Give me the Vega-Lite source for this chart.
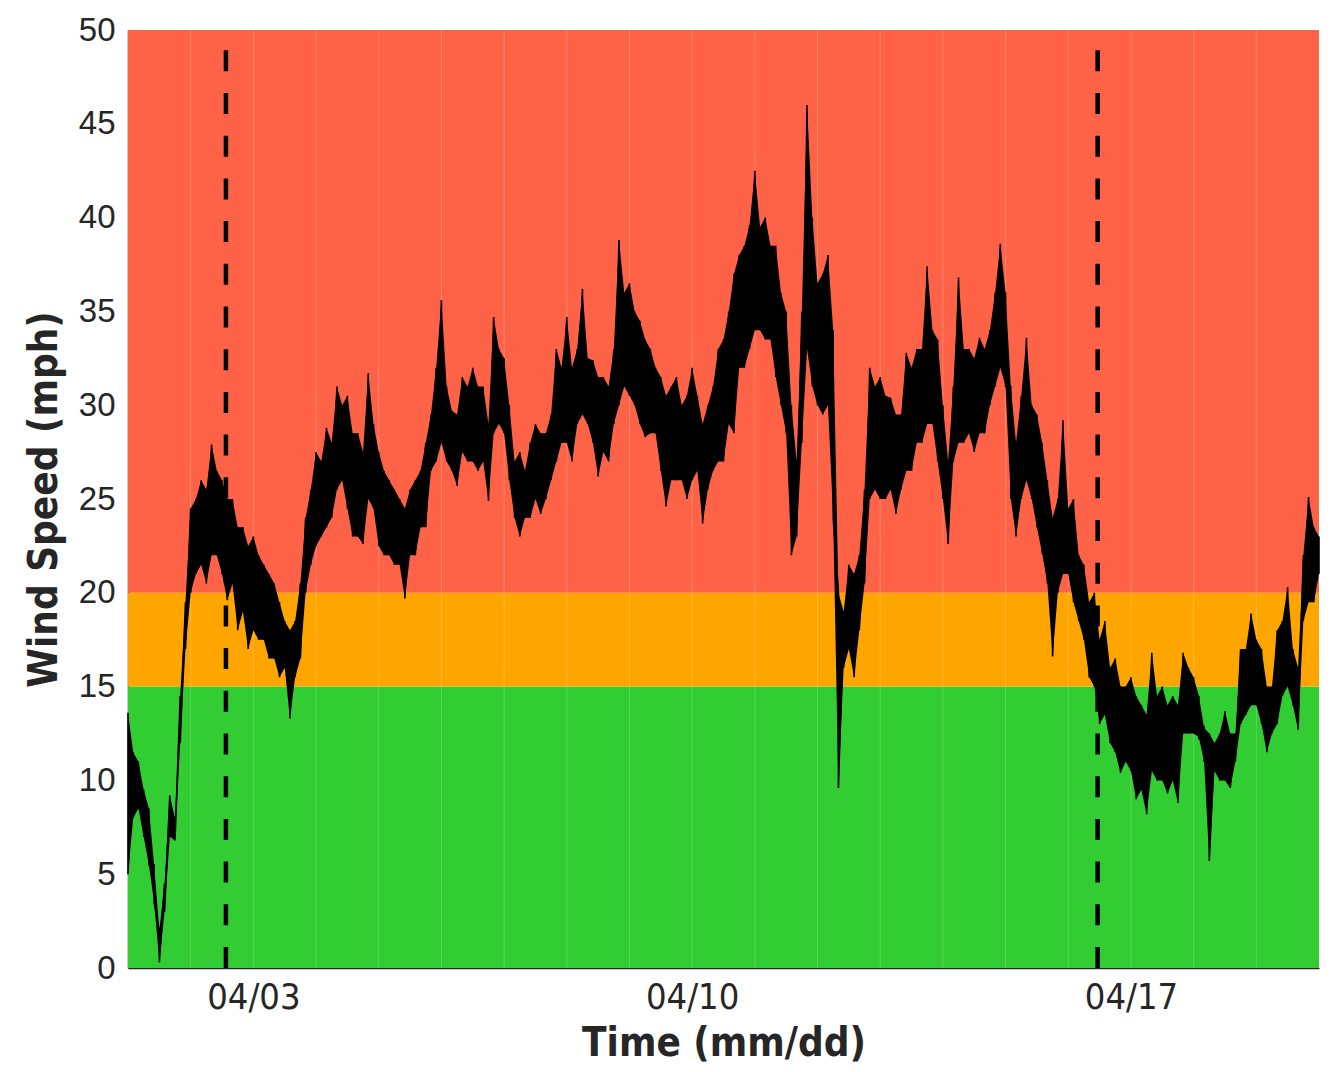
{
"$schema": "https://vega.github.io/schema/vega-lite/v6.json",
"width": 1191, "height": 938,
"autosize": {"type": "none"},
"padding": {"left": 128, "top": 30, "right": 15, "bottom": 104},
"background": "white",
"config": {"view": {"stroke": null}},
"datasets": {
"bands": [{"zone": "green", "lo": 0, "hi": 15}, {"zone": "orange", "lo": 15, "hi": 20}, {"zone": "red", "lo": 20, "hi": 50}],
"days": [{"t":"2023-04-02T00:00"},{"t":"2023-04-03T00:00"},{"t":"2023-04-04T00:00"},{"t":"2023-04-05T00:00"},{"t":"2023-04-06T00:00"},{"t":"2023-04-07T00:00"},{"t":"2023-04-08T00:00"},{"t":"2023-04-09T00:00"},{"t":"2023-04-10T00:00"},{"t":"2023-04-11T00:00"},{"t":"2023-04-12T00:00"},{"t":"2023-04-13T00:00"},{"t":"2023-04-14T00:00"},{"t":"2023-04-15T00:00"},{"t":"2023-04-16T00:00"},{"t":"2023-04-17T00:00"},{"t":"2023-04-18T00:00"},{"t":"2023-04-19T00:00"}],
"markers": [{"t":"2023-04-02T13:30"},{"t":"2023-04-16T11:15"}],
"wind": [
{"t":"2023-04-01T00:00","hi":13.6,"lo":5.0},{"t":"2023-04-01T02:00","hi":11.5,"lo":8.0},{"t":"2023-04-01T04:00","hi":11.0,"lo":8.5},{"t":"2023-04-01T06:00","hi":9.5,"lo":7.0},{"t":"2023-04-01T08:00","hi":8.5,"lo":5.5},{"t":"2023-04-01T10:00","hi":5.5,"lo":3.5},{"t":"2023-04-01T12:00","hi":2.0,"lo":0.3},{"t":"2023-04-01T14:00","hi":4.5,"lo":3.0},{"t":"2023-04-01T16:00","hi":9.2,"lo":7.0},{"t":"2023-04-01T18:00","hi":8.0,"lo":6.8},{"t":"2023-04-01T20:00","hi":14.5,"lo":12.0},{"t":"2023-04-01T22:00","hi":19.5,"lo":17.0},
{"t":"2023-04-02T00:00","hi":24.5,"lo":20.0},{"t":"2023-04-02T02:00","hi":25.0,"lo":21.0},{"t":"2023-04-02T04:00","hi":26.0,"lo":21.5},{"t":"2023-04-02T06:00","hi":25.5,"lo":20.5},{"t":"2023-04-02T08:00","hi":27.9,"lo":22.0},{"t":"2023-04-02T10:00","hi":26.5,"lo":22.0},{"t":"2023-04-02T12:00","hi":26.0,"lo":21.0},{"t":"2023-04-02T14:00","hi":25.0,"lo":19.6},{"t":"2023-04-02T16:00","hi":25.0,"lo":20.5},{"t":"2023-04-02T18:00","hi":23.5,"lo":18.0},{"t":"2023-04-02T20:00","hi":23.5,"lo":19.0},{"t":"2023-04-02T22:00","hi":22.5,"lo":17.0},
{"t":"2023-04-03T00:00","hi":23.0,"lo":18.0},{"t":"2023-04-03T02:00","hi":22.0,"lo":17.5},{"t":"2023-04-03T04:00","hi":21.5,"lo":17.5},{"t":"2023-04-03T06:00","hi":21.0,"lo":16.5},{"t":"2023-04-03T08:00","hi":20.5,"lo":16.5},{"t":"2023-04-03T10:00","hi":19.5,"lo":15.5},{"t":"2023-04-03T12:00","hi":18.5,"lo":16.0},{"t":"2023-04-03T14:00","hi":18.0,"lo":13.3},{"t":"2023-04-03T16:00","hi":18.5,"lo":15.5},{"t":"2023-04-03T18:00","hi":20.5,"lo":16.5},{"t":"2023-04-03T20:00","hi":24.0,"lo":20.0},{"t":"2023-04-03T22:00","hi":25.5,"lo":21.5},
{"t":"2023-04-04T00:00","hi":27.5,"lo":22.5},{"t":"2023-04-04T02:00","hi":27.0,"lo":23.0},{"t":"2023-04-04T04:00","hi":28.8,"lo":23.5},{"t":"2023-04-04T06:00","hi":28.0,"lo":24.0},{"t":"2023-04-04T08:00","hi":31.0,"lo":25.5},{"t":"2023-04-04T10:00","hi":30.0,"lo":26.0},{"t":"2023-04-04T12:00","hi":30.5,"lo":24.5},{"t":"2023-04-04T14:00","hi":28.5,"lo":23.0},{"t":"2023-04-04T16:00","hi":28.5,"lo":23.0},{"t":"2023-04-04T18:00","hi":27.5,"lo":22.6},{"t":"2023-04-04T20:00","hi":31.7,"lo":25.0},{"t":"2023-04-04T22:00","hi":29.0,"lo":24.5},
{"t":"2023-04-05T00:00","hi":27.5,"lo":22.5},{"t":"2023-04-05T02:00","hi":26.5,"lo":22.0},{"t":"2023-04-05T04:00","hi":26.0,"lo":22.0},{"t":"2023-04-05T06:00","hi":25.5,"lo":21.5},{"t":"2023-04-05T08:00","hi":25.0,"lo":21.5},{"t":"2023-04-05T10:00","hi":24.5,"lo":19.7},{"t":"2023-04-05T12:00","hi":25.5,"lo":22.0},{"t":"2023-04-05T14:00","hi":26.0,"lo":22.0},{"t":"2023-04-05T16:00","hi":26.5,"lo":23.5},{"t":"2023-04-05T18:00","hi":28.0,"lo":23.5},{"t":"2023-04-05T20:00","hi":29.5,"lo":26.5},{"t":"2023-04-05T22:00","hi":32.0,"lo":27.0},
{"t":"2023-04-06T00:00","hi":35.6,"lo":28.0},{"t":"2023-04-06T02:00","hi":31.0,"lo":27.0},{"t":"2023-04-06T04:00","hi":29.7,"lo":26.5},{"t":"2023-04-06T06:00","hi":29.5,"lo":25.7},{"t":"2023-04-06T08:00","hi":31.5,"lo":27.5},{"t":"2023-04-06T10:00","hi":31.0,"lo":27.0},{"t":"2023-04-06T12:00","hi":32.0,"lo":27.0},{"t":"2023-04-06T14:00","hi":31.0,"lo":26.5},{"t":"2023-04-06T16:00","hi":31.0,"lo":27.0},{"t":"2023-04-06T18:00","hi":29.0,"lo":24.9},{"t":"2023-04-06T20:00","hi":34.7,"lo":28.5},{"t":"2023-04-06T22:00","hi":33.0,"lo":29.0},
{"t":"2023-04-07T00:00","hi":32.5,"lo":28.5},{"t":"2023-04-07T02:00","hi":30.0,"lo":26.0},{"t":"2023-04-07T04:00","hi":27.0,"lo":24.0},{"t":"2023-04-07T06:00","hi":27.5,"lo":23.0},{"t":"2023-04-07T08:00","hi":26.5,"lo":24.0},{"t":"2023-04-07T10:00","hi":28.0,"lo":24.0},{"t":"2023-04-07T12:00","hi":29.0,"lo":25.0},{"t":"2023-04-07T14:00","hi":28.5,"lo":24.2},{"t":"2023-04-07T16:00","hi":28.5,"lo":25.0},{"t":"2023-04-07T18:00","hi":29.5,"lo":26.0},{"t":"2023-04-07T20:00","hi":33.0,"lo":27.0},{"t":"2023-04-07T22:00","hi":32.0,"lo":28.0},
{"t":"2023-04-08T00:00","hi":34.7,"lo":28.0},{"t":"2023-04-08T02:00","hi":32.0,"lo":27.0},{"t":"2023-04-08T04:00","hi":33.0,"lo":29.0},{"t":"2023-04-08T06:00","hi":36.2,"lo":29.5},{"t":"2023-04-08T08:00","hi":32.5,"lo":29.0},{"t":"2023-04-08T10:00","hi":32.4,"lo":28.0},{"t":"2023-04-08T12:00","hi":31.5,"lo":26.2},{"t":"2023-04-08T14:00","hi":31.5,"lo":27.5},{"t":"2023-04-08T16:00","hi":31.0,"lo":27.0},{"t":"2023-04-08T18:00","hi":33.0,"lo":29.0},{"t":"2023-04-08T20:00","hi":38.8,"lo":30.0},{"t":"2023-04-08T22:00","hi":36.0,"lo":31.0},
{"t":"2023-04-09T00:00","hi":36.5,"lo":30.5},{"t":"2023-04-09T02:00","hi":35.0,"lo":30.0},{"t":"2023-04-09T04:00","hi":34.5,"lo":29.0},{"t":"2023-04-09T06:00","hi":33.5,"lo":28.3},{"t":"2023-04-09T08:00","hi":33.0,"lo":28.5},{"t":"2023-04-09T10:00","hi":32.0,"lo":28.5},{"t":"2023-04-09T12:00","hi":31.5,"lo":26.5},{"t":"2023-04-09T14:00","hi":30.5,"lo":24.6},{"t":"2023-04-09T16:00","hi":31.0,"lo":26.0},{"t":"2023-04-09T18:00","hi":31.5,"lo":26.0},{"t":"2023-04-09T20:00","hi":30.0,"lo":26.0},{"t":"2023-04-09T22:00","hi":30.5,"lo":25.0},
{"t":"2023-04-10T00:00","hi":32.0,"lo":26.0},{"t":"2023-04-10T02:00","hi":30.5,"lo":26.5},{"t":"2023-04-10T04:00","hi":29.0,"lo":23.7},{"t":"2023-04-10T06:00","hi":30.0,"lo":25.5},{"t":"2023-04-10T08:00","hi":31.0,"lo":26.5},{"t":"2023-04-10T10:00","hi":33.0,"lo":27.0},{"t":"2023-04-10T12:00","hi":33.5,"lo":27.0},{"t":"2023-04-10T14:00","hi":35.0,"lo":29.0},{"t":"2023-04-10T16:00","hi":37.0,"lo":28.5},{"t":"2023-04-10T18:00","hi":38.0,"lo":32.0},{"t":"2023-04-10T20:00","hi":38.5,"lo":32.0},{"t":"2023-04-10T22:00","hi":39.6,"lo":33.0},
{"t":"2023-04-11T00:00","hi":42.5,"lo":34.0},{"t":"2023-04-11T02:00","hi":39.5,"lo":34.0},{"t":"2023-04-11T04:00","hi":40.0,"lo":33.5},{"t":"2023-04-11T06:00","hi":38.5,"lo":33.5},{"t":"2023-04-11T08:00","hi":38.5,"lo":31.5},{"t":"2023-04-11T10:00","hi":36.0,"lo":30.0},{"t":"2023-04-11T12:00","hi":35.0,"lo":28.5},{"t":"2023-04-11T14:00","hi":30.0,"lo":22.0},{"t":"2023-04-11T16:00","hi":27.0,"lo":23.0},{"t":"2023-04-11T18:00","hi":35.0,"lo":28.0},{"t":"2023-04-11T20:00","hi":46.0,"lo":33.0},{"t":"2023-04-11T22:00","hi":40.0,"lo":31.0},
{"t":"2023-04-12T00:00","hi":36.5,"lo":30.0},{"t":"2023-04-12T02:00","hi":37.0,"lo":29.5},{"t":"2023-04-12T04:00","hi":38.0,"lo":30.0},{"t":"2023-04-12T06:00","hi":34.0,"lo":24.0},{"t":"2023-04-12T08:00","hi":20.0,"lo":9.6},{"t":"2023-04-12T10:00","hi":19.0,"lo":16.0},{"t":"2023-04-12T12:00","hi":21.5,"lo":17.0},{"t":"2023-04-12T14:00","hi":21.0,"lo":15.5},{"t":"2023-04-12T16:00","hi":22.0,"lo":18.0},{"t":"2023-04-12T18:00","hi":25.5,"lo":20.5},{"t":"2023-04-12T20:00","hi":32.0,"lo":25.0},{"t":"2023-04-12T22:00","hi":31.0,"lo":25.5},
{"t":"2023-04-13T00:00","hi":31.5,"lo":25.0},{"t":"2023-04-13T02:00","hi":30.5,"lo":25.0},{"t":"2023-04-13T04:00","hi":30.4,"lo":25.5},{"t":"2023-04-13T06:00","hi":29.5,"lo":24.2},{"t":"2023-04-13T08:00","hi":29.5,"lo":25.5},{"t":"2023-04-13T10:00","hi":32.8,"lo":26.5},{"t":"2023-04-13T12:00","hi":32.0,"lo":26.5},{"t":"2023-04-13T14:00","hi":33.0,"lo":28.0},{"t":"2023-04-13T16:00","hi":33.0,"lo":28.0},{"t":"2023-04-13T18:00","hi":37.4,"lo":29.0},{"t":"2023-04-13T20:00","hi":34.0,"lo":29.0},{"t":"2023-04-13T22:00","hi":33.5,"lo":27.0},
{"t":"2023-04-14T00:00","hi":30.0,"lo":25.0},{"t":"2023-04-14T02:00","hi":27.0,"lo":22.6},{"t":"2023-04-14T04:00","hi":31.0,"lo":27.0},{"t":"2023-04-14T06:00","hi":36.8,"lo":28.0},{"t":"2023-04-14T08:00","hi":33.0,"lo":28.0},{"t":"2023-04-14T10:00","hi":33.0,"lo":28.5},{"t":"2023-04-14T12:00","hi":32.5,"lo":27.5},{"t":"2023-04-14T14:00","hi":33.6,"lo":28.5},{"t":"2023-04-14T16:00","hi":33.0,"lo":28.5},{"t":"2023-04-14T18:00","hi":34.0,"lo":30.0},{"t":"2023-04-14T20:00","hi":36.0,"lo":31.0},{"t":"2023-04-14T22:00","hi":38.6,"lo":32.0},
{"t":"2023-04-15T00:00","hi":36.0,"lo":31.0},{"t":"2023-04-15T02:00","hi":31.0,"lo":25.0},{"t":"2023-04-15T04:00","hi":28.0,"lo":23.0},{"t":"2023-04-15T06:00","hi":30.5,"lo":25.0},{"t":"2023-04-15T08:00","hi":33.6,"lo":26.0},{"t":"2023-04-15T10:00","hi":30.0,"lo":25.0},{"t":"2023-04-15T12:00","hi":29.5,"lo":23.5},{"t":"2023-04-15T14:00","hi":28.0,"lo":22.1},{"t":"2023-04-15T16:00","hi":26.0,"lo":20.5},{"t":"2023-04-15T18:00","hi":24.0,"lo":16.6},{"t":"2023-04-15T20:00","hi":25.0,"lo":20.0},{"t":"2023-04-15T22:00","hi":29.2,"lo":21.0},
{"t":"2023-04-16T00:00","hi":24.5,"lo":21.0},{"t":"2023-04-16T02:00","hi":25.0,"lo":19.5},{"t":"2023-04-16T04:00","hi":22.0,"lo":18.5},{"t":"2023-04-16T06:00","hi":21.5,"lo":17.5},{"t":"2023-04-16T08:00","hi":19.5,"lo":15.5},{"t":"2023-04-16T10:00","hi":20.0,"lo":15.0},{"t":"2023-04-16T12:00","hi":17.5,"lo":13.0},{"t":"2023-04-16T14:00","hi":18.5,"lo":13.5},{"t":"2023-04-16T16:00","hi":16.0,"lo":12.0},{"t":"2023-04-16T18:00","hi":16.5,"lo":11.5},{"t":"2023-04-16T20:00","hi":15.0,"lo":10.4},{"t":"2023-04-16T22:00","hi":15.0,"lo":11.0},
{"t":"2023-04-17T00:00","hi":15.5,"lo":10.5},{"t":"2023-04-17T02:00","hi":14.5,"lo":9.0},{"t":"2023-04-17T04:00","hi":14.0,"lo":9.5},{"t":"2023-04-17T06:00","hi":13.5,"lo":8.2},{"t":"2023-04-17T08:00","hi":16.8,"lo":10.5},{"t":"2023-04-17T10:00","hi":14.5,"lo":10.0},{"t":"2023-04-17T12:00","hi":15.0,"lo":10.0},{"t":"2023-04-17T14:00","hi":14.0,"lo":9.3},{"t":"2023-04-17T16:00","hi":14.5,"lo":10.0},{"t":"2023-04-17T18:00","hi":14.0,"lo":8.8},{"t":"2023-04-17T20:00","hi":16.8,"lo":12.5},{"t":"2023-04-17T22:00","hi":16.0,"lo":12.5},
{"t":"2023-04-18T00:00","hi":15.5,"lo":12.5},{"t":"2023-04-18T02:00","hi":14.5,"lo":12.3},{"t":"2023-04-18T04:00","hi":12.8,"lo":11.0},{"t":"2023-04-18T06:00","hi":12.5,"lo":5.7},{"t":"2023-04-18T08:00","hi":12.0,"lo":10.5},{"t":"2023-04-18T10:00","hi":12.5,"lo":10.0},{"t":"2023-04-18T12:00","hi":13.7,"lo":10.0},{"t":"2023-04-18T14:00","hi":12.5,"lo":9.6},{"t":"2023-04-18T16:00","hi":12.5,"lo":11.0},{"t":"2023-04-18T18:00","hi":17.0,"lo":13.0},{"t":"2023-04-18T20:00","hi":17.0,"lo":13.5},{"t":"2023-04-18T22:00","hi":18.9,"lo":14.0},
{"t":"2023-04-19T00:00","hi":17.5,"lo":14.0},{"t":"2023-04-19T02:00","hi":17.0,"lo":13.0},{"t":"2023-04-19T04:00","hi":15.0,"lo":11.5},{"t":"2023-04-19T06:00","hi":15.0,"lo":12.5},{"t":"2023-04-19T08:00","hi":18.0,"lo":13.0},{"t":"2023-04-19T10:00","hi":18.5,"lo":14.5},{"t":"2023-04-19T12:00","hi":20.3,"lo":15.0},{"t":"2023-04-19T14:00","hi":17.0,"lo":14.0},{"t":"2023-04-19T16:00","hi":16.0,"lo":12.7},{"t":"2023-04-19T18:00","hi":22.0,"lo":18.5},{"t":"2023-04-19T20:00","hi":25.1,"lo":19.5},{"t":"2023-04-19T22:00","hi":23.5,"lo":19.5},
{"t":"2023-04-20T00:00","hi":23.0,"lo":21.0}
]
},
"layer": [
{"data": {"name": "bands"}, "mark": {"type": "rect"},
 "encoding": {
  "y": {"field": "lo", "type": "quantitative", "title": "Wind Speed (mph)", "scale": {"domain": [0, 50], "nice": false, "zero": false}},
  "y2": {"field": "hi"},
  "color": {"field": "zone", "type": "nominal", "scale": {"domain": ["green", "orange", "red"], "range": ["#32CD32", "#FFA500", "#FF6347"]}, "legend": null}
 }},
{"data": {"name": "days"}, "mark": {"type": "rule", "color": "white", "opacity": 0.2, "strokeWidth": 1},
 "encoding": {
  "x": {"field": "t", "type": "temporal", "title": "Time (mm/dd)",
   "scale": {"domain": [{"year": 2023, "month": 4, "date": 1}, {"year": 2023, "month": 4, "date": 20}]},
   "axis": {"values": [{"year": 2023, "month": 4, "date": 3}, {"year": 2023, "month": 4, "date": 10}, {"year": 2023, "month": 4, "date": 17}],
    "format": "%m/%d", "grid": false, "ticks": false, "labelPadding": 12,
    "labelFont": "'Liberation Sans Narrow', 'DejaVu Sans Condensed', sans-serif", "labelFontSize": 36, "labelColor": "#262626",
    "titleFont": "'Liberation Sans Narrow', 'DejaVu Sans Condensed', sans-serif", "titleFontSize": 40, "titleFontWeight": "bold", "titleColor": "#262626", "titlePadding": 8,
    "domainColor": "#262626", "domainWidth": 1.5}}
 }},
{"data": {"name": "wind"}, "mark": {"type": "area", "color": "black", "opacity": 1},
 "encoding": {
  "x": {"field": "t", "type": "temporal", "title": "Time (mm/dd)"},
  "y": {"field": "lo", "type": "quantitative", "title": "Wind Speed (mph)"},
  "y2": {"field": "hi"}
 }},
{"data": {"name": "wind"},
 "transform": [{"fold": ["hi", "lo"], "as": ["kind", "v"]}],
 "mark": {"type": "line", "color": "black", "strokeWidth": 1.6, "strokeJoin": "miter"},
 "encoding": {
  "x": {"field": "t", "type": "temporal", "title": "Time (mm/dd)"},
  "y": {"field": "v", "type": "quantitative", "title": "Wind Speed (mph)",
   "axis": {"values": [0, 5, 10, 15, 20, 25, 30, 35, 40, 45, 50], "grid": false, "ticks": false, "labelPadding": 13,
    "labelFont": "Liberation Sans, Arial, sans-serif", "labelFontSize": 33, "labelColor": "#262626",
    "titleFont": "'Liberation Sans Narrow', 'DejaVu Sans Condensed', sans-serif", "titleFontSize": 40, "titleFontWeight": "bold", "titleColor": "#262626", "titlePadding": 14,
    "domainColor": "#262626", "domainWidth": 1.5}}
 }},
{"data": {"name": "markers"}, "mark": {"type": "rule", "color": "black", "strokeWidth": 4.5, "strokeDash": [21, 21.7], "strokeCap": "butt"},
 "encoding": {
  "x": {"field": "t", "type": "temporal", "title": "Time (mm/dd)"},
  "y": {"datum": 0},
  "y2": {"datum": 50}
 }}
]
}
